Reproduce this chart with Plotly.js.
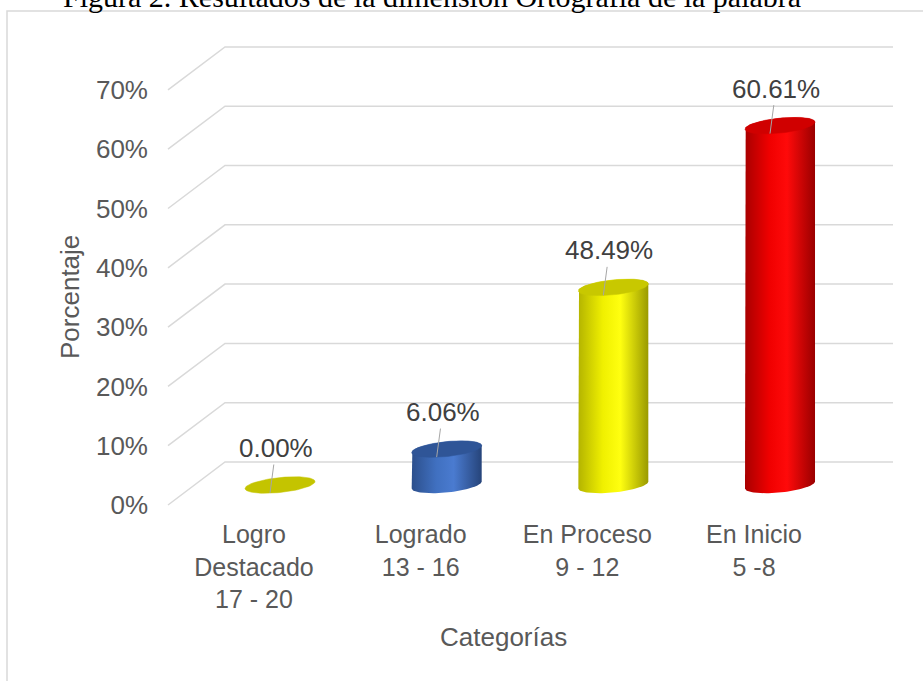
<!DOCTYPE html>
<html>
<head>
<meta charset="utf-8">
<script src="https://cdn.plot.ly/plotly-3.0.1.min.js"></script>
<style>html,body{margin:0;padding:0;background:#fff;}#chart{width:923px;height:681px;}</style>
</head>
<body>
<div id="chart"></div>
<script>
// ---- data ----
var categories = ["Logro<br>Destacado<br>17 - 20", "Logrado<br>13 - 16", "En Proceso<br>9 - 12", "En Inicio<br>5 -8"];
var values = [0, 6.06, 33.33, 60.61];           // bar heights (%)
var valueLabels = ["0.00%", "6.06%", "48.49%", "60.61%"]; // data labels as printed
var yTicks = [0, 10, 20, 30, 40, 50, 60, 70];
var yTickText = ["0%", "10%", "20%", "30%", "40%", "50%", "60%", "70%"];
var titleText = "Figura 2. Resultados de la dimensión Ortografía de la palabra";
var xTitle = "Categorías";
var yTitle = "Porcentaje";

// ---- styles ----
var bodyScales = [
  [[0, "#a8a800"], [0.35, "#e8e800"], [0.6, "#ffff00"], [1, "#9a9a00"]],
  [[0, "#2c4f8c"], [0.35, "#4070c0"], [0.6, "#4a7bd0"], [1, "#26447a"]],
  [[0, "#b4b400"], [0.35, "#f0f000"], [0.6, "#ffff10"], [1, "#9a9a00"]],
  [[0, "#a80000"], [0.35, "#f00000"], [0.6, "#ff0a0a"], [1, "#9a0000"]]
];
var topColors = ["#c4c400", "#2f5597", "#c8c800", "#d00000"];
var SANS = "Liberation Sans, Arial, sans-serif";

var PXY = 5.93;        // pixels per % unit
var PXX = 166.67;      // pixels per category unit
var a = 35 / PXX;      // half width of cylinder
var b = 7.5 / PXY;     // half height of ellipse
var k = 3.5 / PXY;     // tilt of ellipse

function ell(c, base, t) { return [c + a * Math.cos(t), base + b * Math.sin(t) + k * Math.cos(t)]; }

var traces = [];
var N = 48;
values.forEach(function (v, i) {
  var xs = [], ys = [], p, j, t;
  // body
  p = ell(i, 0, Math.PI); xs.push(p[0]); ys.push(p[1]);
  for (j = 0; j <= N; j++) { t = Math.PI - Math.PI * j / N; p = ell(i, v, t); xs.push(p[0]); ys.push(p[1]); }
  for (j = 0; j <= N; j++) { t = -Math.PI * j / N; p = ell(i, 0, t); xs.push(p[0]); ys.push(p[1]); }
  if (v > 0) {
    traces.push({
      type: "scatter", mode: "lines", x: xs, y: ys, fill: "toself",
      line: { width: 0 }, fillgradient: { type: "horizontal", colorscale: bodyScales[i] },
      hoverinfo: "skip", showlegend: false
    });
  }
  // top ellipse
  var ex = [], ey = [];
  for (j = 0; j <= 2 * N; j++) { t = 2 * Math.PI * j / (2 * N); p = ell(i, v, t); ex.push(p[0]); ey.push(p[1]); }
  traces.push({
    type: "scatter", mode: "lines", x: ex, y: ey, fill: "toself",
    fillcolor: topColors[i], line: { width: 0.5, color: topColors[i] },
    hoverinfo: "skip", showlegend: false
  });
});

var shapes = [];
// chart border
shapes.push({ type: "rect", xref: "paper", yref: "paper", x0: 7 / 923, x1: 1.01, y0: -0.01, y1: 1 - 11 / 681,
  line: { color: "#d9d9d9", width: 1.5 }, fillcolor: "rgba(0,0,0,0)", layer: "below" });
// 3D gridlines: front end -> back wall
yTicks.forEach(function (v) {
  shapes.push({ type: "path", xref: "paper", yref: "y", xsizemode: "pixel", xanchor: 0,
    ysizemode: "pixel", yanchor: v, path: "M168,-20 L225,23 L893,23",
    line: { color: "#d9d9d9", width: 1.5 }, layer: "below" });
});

var annotations = [];
values.forEach(function (v, i) {
  annotations.push({ x: i - 0.06, y: v - 1.35, xref: "x", yref: "y", text: valueLabels[i],
    showarrow: true, arrowhead: 0, arrowwidth: 1, arrowcolor: "#a6a6a6", ax: 6, ay: -45,
    font: { family: SANS, size: 26, color: "#404040" } });
});
annotations.push({ xref: "paper", yref: "paper", x: 432 / 923, y: 1 + 3 / 681, xanchor: "center", yanchor: "middle",
  text: titleText, showarrow: false, font: { family: "Liberation Serif, Times New Roman, serif", size: 30, color: "#000" } });
annotations.push({ xref: "paper", yref: "paper", x: 503 / 923, y: 1 - 637 / 681, xanchor: "center", yanchor: "middle",
  text: xTitle, showarrow: false, font: { family: SANS, size: 26, color: "#595959" } });
annotations.push({ xref: "paper", yref: "paper", x: 70 / 923, y: 1 - 297 / 681, xanchor: "center", yanchor: "middle",
  text: yTitle, textangle: -90, showarrow: false, font: { family: SANS, size: 26, color: "#595959" } });

var layout = {
  width: 923, height: 681,
  margin: { l: 0, r: 0, t: 0, b: 0 },
  paper_bgcolor: "#ffffff", plot_bgcolor: "rgba(0,0,0,0)",
  showlegend: false,
  font: { family: SANS, color: "#595959", size: 26 },
  xaxis: {
    range: [-280 / PXX, (923 - 280) / PXX], domain: [0, 1],
    tickvals: [0, 1, 2, 3], ticktext: categories, ticklabelshift: -26,
    anchor: "free", position: (681 - 517) / 681,
    showgrid: false, zeroline: false, showline: false, ticks: "",
    tickfont: { family: SANS, size: 25, color: "#595959" }, fixedrange: true
  },
  yaxis: {
    range: [-(681 - 485) / PXY, 485 / PXY], domain: [0, 1],
    tickvals: yTicks, ticktext: yTickText, ticklabelshift: 20, ticklabelstandoff: 20,
    anchor: "free", position: 168 / 923, side: "left",
    showgrid: false, zeroline: false, showline: false, ticks: "",
    tickfont: { family: SANS, size: 26, color: "#595959" }, fixedrange: true
  },
  shapes: shapes,
  annotations: annotations
};

Plotly.newPlot("chart", traces, layout, { displayModeBar: false, staticPlot: true });
</script>
</body>
</html>
